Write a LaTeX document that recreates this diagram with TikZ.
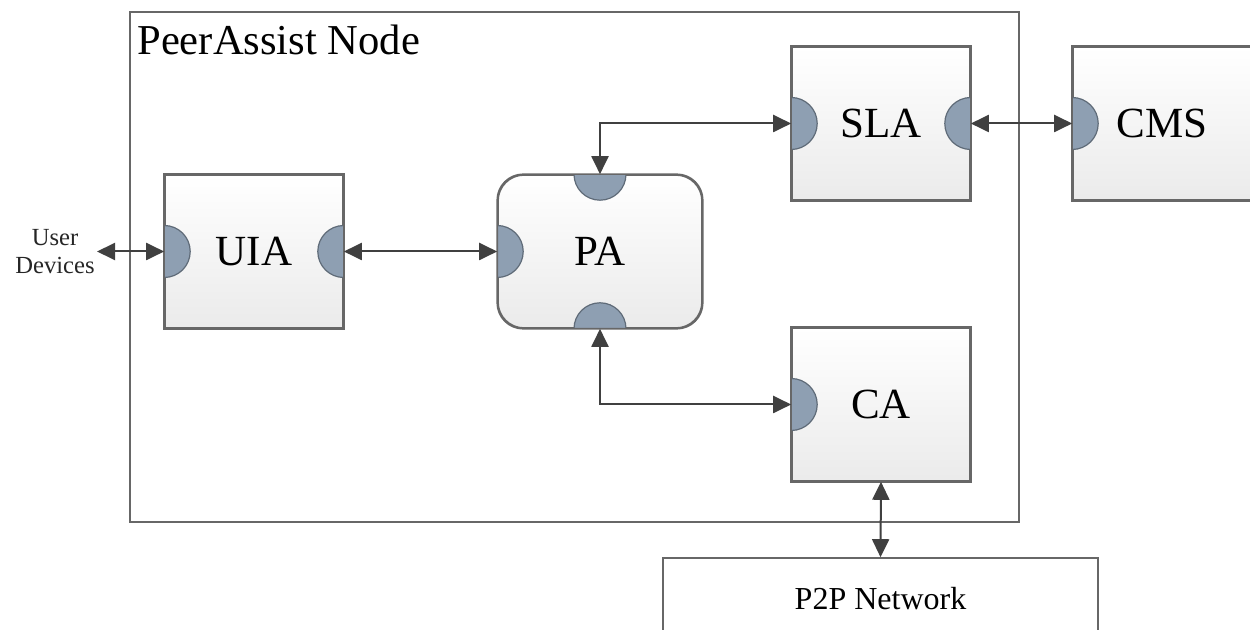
\documentclass[tikz,border=0pt]{standalone}
\usepackage{fontspec}
\setmainfont{Liberation Serif}
\usetikzlibrary{arrows.meta}
\definecolor{linec}{HTML}{404040}
\definecolor{boxc}{HTML}{676767}
\definecolor{portc}{HTML}{8E9FB2}
\definecolor{portd}{HTML}{5F6B78}
\tikzset{
  comp/.style={draw=boxc, line width=0.8pt, top color=white, bottom color=black!8,
    minimum width=89pt, minimum height=76.5pt, inner sep=0pt,
    font=\fontsize{21}{24}\selectfont},
  plain/.style={draw=boxc, line width=0.8pt, fill=white, inner sep=0pt},
  biarrow/.style={draw=linec, line width=1pt,
    {Triangle[length=9pt,width=8.5pt]}-{Triangle[length=9pt,width=8.5pt]}},
  portstyle/.style={fill=portc, draw=portd, line width=0.6pt}
}
\newcommand{\portat}[2]{%
  \begin{scope}
    \clip (#1.south west) rectangle (#1.north east);
    \filldraw[portstyle] (#2) circle (13pt);
  \end{scope}}
\begin{document}
\begin{tikzpicture}[x=0.5pt,y=-0.5pt]
\useasboundingbox (0,0) rectangle (1250,630);
\clip (0,0) rectangle (1250,630);
\fill[white] (0,0) rectangle (1250,630);

% outer PeerAssist node
\node[plain, minimum width=444.5pt, minimum height=255pt] (outer) at (574.5,267) {};
\node[anchor=base west, inner sep=0pt, font=\fontsize{21.3}{24}\selectfont] (title) at (137,55) {PeerAssist Node};

% components
\node[comp] (UIA) at (254,251.5) {};
\node[comp, minimum width=102pt, rounded corners=13pt] (PA) at (600,251.5) {};
\node[comp] (SLA) at (881,123.5) {};
\node[comp] (CMS) at (1162,123.5) {};
\node[comp] (CA) at (881,404.5) {};
\node[plain, minimum width=217.5pt, minimum height=41pt] (P2P) at (880.5,599) {};

% ports
\portat{UIA}{UIA.west}
\portat{UIA}{UIA.east}
\portat{PA}{PA.west}
\portat{PA}{PA.north}
\portat{PA}{PA.south}
\portat{SLA}{SLA.west}
\portat{SLA}{SLA.east}
\portat{CMS}{CMS.west}
\portat{CA}{CA.west}

% redraw borders over ports
\draw[boxc, line width=0.8pt] (UIA.south west) rectangle (UIA.north east);
\draw[boxc, line width=0.8pt, rounded corners=13pt] (PA.south west) rectangle (PA.north east);
\draw[boxc, line width=0.8pt] (SLA.south west) rectangle (SLA.north east);
\draw[boxc, line width=0.8pt] (CMS.south west) rectangle (CMS.north east);
\draw[boxc, line width=0.8pt] (CA.south west) rectangle (CA.north east);

% labels
\node[font=\fontsize{21.5}{24}\selectfont] at (UIA.center) {UIA};
\node[font=\fontsize{21.5}{24}\selectfont] at (PA.center) {PA};
\node[font=\fontsize{21.5}{24}\selectfont] at (SLA.center) {SLA};
\node[font=\fontsize{21.5}{24}\selectfont] at (CMS.center) {CMS};
\node[font=\fontsize{21.5}{24}\selectfont] at (CA.center) {CA};
\node[font=\fontsize{16}{19}\selectfont] at (P2P.center) {P2P Network};
\node[align=center, inner sep=1pt, font=\fontsize{12.3}{14}\selectfont, text=black!85] (ud) at (55,251.5) {User\\Devices};

% connectors
\draw[biarrow] (ud.east) -- (UIA.west);
\draw[biarrow] (UIA.east) -- (PA.west);
\draw[biarrow] (PA.north) |- (SLA.west);
\draw[biarrow] (PA.south) |- (CA.west);
\draw[biarrow] (SLA.east) -- (CMS.west);
\draw[biarrow] (CA.south) -- (P2P.north);
\end{tikzpicture}
\end{document}
